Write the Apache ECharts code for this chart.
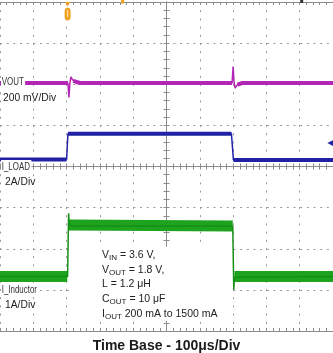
<!DOCTYPE html>
<html><head><meta charset="utf-8">
<script src="https://cdn.jsdelivr.net/npm/echarts@6/dist/echarts.min.js"></script>
<style>html,body{margin:0;padding:0;background:#fff}#c{width:333px;height:353px}</style>
</head><body><div id="c"></div>
<script>
// ---- data (time in µs, 100 µs/div) ----
// VOUT (V), 200 mV/div
const voutTrace = [[0,1.8],[204,1.8],[207,1.73],[210,1.8],[213,1.83],[218,1.815],[228,1.805],[240,1.8],[697,1.8],[700,1.88],[703,1.8],[706,1.775],[712,1.79],[725,1.8],[1000,1.8]];
const voutBand  = [[0,1.8],[204,1.8],[205,'-'],[220,1.81],[240,1.8],[697,1.8],[698,'-'],[713,1.792],[728,1.8],[1000,1.8]];
// I_LOAD (A), 2 A/div
const iLoadTrace = [[0,0.2],[200,0.2],[204,1.45],[695,1.45],[701,0.18],[1000,0.18]];
const iLoadBand  = [[0,0.2],[200,0.2],[201,'-'],[204,1.45],[695,1.45],[696,'-'],[701,0.18],[1000,0.18]];
// I_Inductor (A), 1 A/div
const iLTrace = [[0,0.22],[203,0.22],[206,1.76],[208,1.5],[212,1.45],[699,1.45],[702,-0.1],[704,0.2],[708,0.22],[1000,0.22]];
const iLBand  = [[0,0.22],[202,0.22],[203,'-'],[207,1.47],[699,1.45],[700,'-'],[704,0.22],[1000,0.22]];
// markers
const triggerT = 203;
const loadLevel = [[992, 1.0]];
// texts
const channelNames = ['VOUT', 'I_LOAD', 'I_Inductor'];
const channelScales = ['200 mV/Div', '2A/Div', '1A/Div'];
const conditions = [
  ['V', 'IN', ' = 3.6 V,'],
  ['V', 'OUT', ' = 1.8 V,'],
  ['L = 1.2 μH', '', ''],
  ['C', 'OUT', ' = 10 μF'],
  ['I', 'OUT', ' 200 mA to 1500 mA']
];
const xTitle = 'Time Base - 100μs/Div';

// ---- chart ----
const FONT = '"Liberation Sans", Arial, sans-serif';
const axC = '#8c8c8c', dotC = '#999';
const MAG = '#b327b6', BLUE = '#2222a6', GREEN = '#1ea31e';
const chart = echarts.init(document.getElementById('c'), null, {renderer: 'canvas'});

function xRuler(pos, inside, extra) {
  return Object.assign({
    type: 'value', min: 0, max: 1000, interval: 100, position: pos,
    axisLabel: {show: false}, splitLine: {show: false},
    axisLine: {show: true, onZero: false, lineStyle: {color: axC, width: 1}},
    axisTick: {show: true, inside: inside, length: 3, lineStyle: {color: axC}},
    minorTick: {show: true, splitNumber: 5, length: 3, lineStyle: {color: axC}}
  }, extra || {});
}
function yCenter(inside, extra) {
  return Object.assign({
    type: 'value', min: -4, max: 4, interval: 1, position: 'left',
    axisLabel: {show: false}, splitLine: {show: false},
    axisLine: {show: true, onZero: true, onZeroAxisIndex: 4, lineStyle: {color: axC, width: 1}},
    axisTick: {show: true, inside: inside, length: 3, lineStyle: {color: axC}},
    minorTick: {show: true, splitNumber: 5, length: 3, lineStyle: {color: axC}}
  }, extra || {});
}
function hiddenY(min, max) {
  return {type: 'value', min: min, max: max, show: false, axisLine: {onZero: false}, splitLine: {show: false}};
}

const option = {
  animation: false,
  backgroundColor: '#fff',
  grid: {left: 0, right: 0, top: 2, bottom: 22, containLabel: false},
  xAxis: [
    xRuler('bottom', true, {splitLine: {show: true, lineStyle: {color: dotC, width: 1, type: [2, 6.2]}}}),
    xRuler('top', true),
    Object.assign(xRuler('bottom', false), {axisLine: {show: true, onZero: true, onZeroAxisIndex: 0, lineStyle: {color: axC, width: 1}}}),
    Object.assign(xRuler('bottom', true), {axisLine: {show: true, onZero: true, onZeroAxisIndex: 0, lineStyle: {color: axC, width: 1}}}),
    {type: 'value', min: -5, max: 5, show: false, position: 'top', axisLine: {onZero: false}, splitLine: {show: false}}
  ],
  yAxis: [
    yCenter(false, {splitLine: {show: true, lineStyle: {color: dotC, width: 1, type: [2, 4.67]}}}),
    yCenter(true),
    hiddenY(0.594, 2.194),
    hiddenY(-8.14, 7.86),
    hiddenY(-1.105, 6.895)
  ],
  series: [
    {type: 'line', xAxisIndex: 0, yAxisIndex: 2, data: voutBand, showSymbol: false, z: 3, lineStyle: {color: MAG, width: 4}},
    {type: 'line', xAxisIndex: 0, yAxisIndex: 2, data: voutTrace, showSymbol: false, z: 3, lineStyle: {color: MAG, width: 1.5}},
    {type: 'line', xAxisIndex: 0, yAxisIndex: 3, data: iLoadBand, showSymbol: false, z: 3, lineStyle: {color: BLUE, width: 4}},
    {type: 'line', xAxisIndex: 0, yAxisIndex: 3, data: iLoadTrace, showSymbol: false, z: 3, lineStyle: {color: BLUE, width: 1.5},
      markPoint: {symbol: 'triangle', symbolSize: [6, 6], symbolRotate: 90, label: {show: false}, itemStyle: {color: BLUE},
        data: loadLevel.map(p => ({coord: p}))}},
    {type: 'line', xAxisIndex: 0, yAxisIndex: 4, data: iLBand, showSymbol: false, z: 3, lineStyle: {color: GREEN, width: 11}},
    {type: 'line', xAxisIndex: 0, yAxisIndex: 4, data: iLTrace, showSymbol: false, z: 3, lineStyle: {color: '#168f16', width: 1.5}}
  ]
};
chart.setOption(option);

// ---- graphic overlays ----
const px = t => chart.convertToPixel({xAxisIndex: 0}, t);
const pyDiv = d => chart.convertToPixel({yAxisIndex: 0}, d);
const g = [];
// annotation box (white), between load step edges
const boxL = px(207), boxR = px(697), boxT = pyDiv(-1.95), boxB = pyDiv(-3.75);
g.push({type: 'rect', z: 1, shape: {x: boxL, y: boxT, width: boxR - boxL, height: boxB - boxT}, style: {fill: '#fff'}});
// channel labels
const labelY = [82, 167, 290];
const scaleY = [98, 182, 305];
channelNames.forEach((n, i) => {
  g.push({type: 'text', z: 10, x: 1, y: labelY[i], scaleX: 0.72, style: {text: n, font: '11px ' + FONT, fill: '#333', verticalAlign: 'middle', backgroundColor: '#fff', padding: [2, 2, 1, 1]}});
  g.push({type: 'text', z: 10, x: i === 0 ? 3 : 5, y: scaleY[i], style: {text: channelScales[i], font: '10.3px ' + FONT, fill: '#222', verticalAlign: 'middle'}});
});
// conditions text
conditions.forEach((c, i) => {
  const txt = c[1] ? '{a|' + c[0] + '}{s|' + c[1] + '}{a|' + c[2] + '}' : '{a|' + c[0] + '}';
  g.push({type: 'text', z: 10, x: 102, y: 255 + i * 14.8, style: {text: txt, verticalAlign: 'middle', fill: '#222',
    rich: {a: {font: '10.5px ' + FONT, fill: '#222'}, s: {font: '8px ' + FONT, fill: '#222', padding: [5, 0, 0, 0]}}}});
});
// x title
g.push({type: 'text', z: 10, x: 166.5, y: 346.5, style: {text: xTitle, font: 'bold 14px ' + FONT, fill: '#1a1a1a', align: 'center', verticalAlign: 'middle'}});
// trigger marker
const tx = px(triggerT);
g.push({type: 'polygon', z: 10, shape: {points: [[tx - 2.5, 2], [tx + 2.5, 2], [tx, 6.5]]}, style: {fill: '#f19b1e'}});
g.push({type: 'rect', z: 10, shape: {x: tx - 2.6, y: 8, width: 5.2, height: 12, r: 2.5}, style: {fill: '#f5a623', stroke: '#e08a10', lineWidth: 0.6}});
g.push({type: 'line', z: 11, shape: {x1: tx, y1: 10, x2: tx, y2: 17}, style: {stroke: '#fde2b0', lineWidth: 1}});
g.push({type: 'rect', z: 10, shape: {x: px(368) - 1.5, y: 0, width: 3, height: 3.5}, style: {fill: '#f0a020'}});
g.push({type: 'rect', z: 10, shape: {x: px(906) - 1.5, y: 0, width: 3, height: 3}, style: {fill: '#333'}});
chart.setOption({graphic: {elements: g}});
</script>
</body></html>
